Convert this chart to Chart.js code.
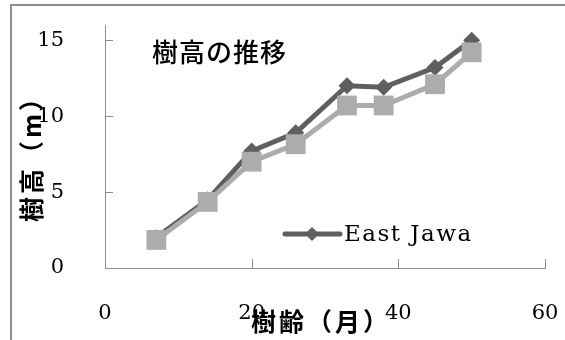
<!DOCTYPE html>
<html>
<head>
<meta charset="utf-8">
<script src="https://cdn.jsdelivr.net/npm/chart.js@4/dist/chart.umd.min.js"></script>
<style>
  html, body { margin: 0; padding: 0; background: #fff; }
  #wrap { width: 565px; height: 340px; }
</style>
</head>
<body>
<div id="wrap"><canvas id="c" width="565" height="340"></canvas></div>
<script>
// 樹齢（月）
const ages = [7, 14, 20, 26, 33, 38, 45, 50];
// 樹高（m）
const eastJawa = [2.0, 4.5, 7.7, 8.9, 12.0, 11.9, 13.2, 15.0];
const series2 = [1.85, 4.35, 7.0, 8.15, 10.7, 10.7, 12.1, 14.2];
const xTicks = [0, 20, 40, 60];
const yTicks = [0, 5, 10, 15];

const chartTitle = '樹高の推移';
const xTitle = '樹齢（月）';
const yTitle = '樹高（m）';

const DARK = '#5f5f5f';
const LIGHT = '#acacac';
const SERIF = '"DejaVu Serif", "Liberation Serif", serif';
const GOTHIC = '"Noto Sans CJK JP", "Noto Sans", sans-serif';

const toPoints = (xs, ys) => xs.map((x, i) => ({ x: x, y: ys[i] }));

// tick labels may overhang the plot; keep the plot box fixed
const noLabelPadding = s => {
  s.paddingTop = 0; s.paddingBottom = 0; s.paddingLeft = 0; s.paddingRight = 0;
};

// frame, inward tick marks, titles and legend
const decorations = {
  id: 'decorations',
  beforeDraw(chart) {
    const ctx = chart.ctx;
    ctx.save();
    ctx.strokeStyle = '#8e8e8e';
    ctx.lineWidth = 2;
    ctx.beginPath();
    ctx.moveTo(11, chart.height);
    ctx.lineTo(11, 5);
    ctx.lineTo(chart.width, 5);
    ctx.stroke();
    ctx.restore();
  },
  afterDraw(chart) {
    const ctx = chart.ctx;
    const a = chart.chartArea;
    const xs = chart.scales.x, ys = chart.scales.y;
    ctx.save();
    // tick marks pointing into the plot
    ctx.strokeStyle = '#8e8e8e';
    ctx.lineWidth = 1;
    ctx.beginPath();
    yTicks.forEach(v => {
      if (v === 0) return;
      const py = Math.round(ys.getPixelForValue(v)) + 0.5;
      ctx.moveTo(a.left, py); ctx.lineTo(a.left + 8, py);
    });
    xTicks.forEach(v => {
      if (v === 0) return;
      const px = Math.round(xs.getPixelForValue(v)) + 0.5;
      ctx.moveTo(px, a.bottom); ctx.lineTo(px, a.bottom - 9);
    });
    ctx.stroke();

    ctx.fillStyle = '#000';
    ctx.textBaseline = 'middle';
    // chart title inside the plot
    ctx.font = '500 26px ' + GOTHIC;
    ctx.letterSpacing = '1px';
    ctx.textAlign = 'left';
    ctx.fillText(chartTitle, a.left + 47, a.top + 27);

    // x axis title
    ctx.font = 'bold 25px ' + GOTHIC;
    ctx.letterSpacing = '3px';
    ctx.textAlign = 'center';
    ctx.fillText(xTitle, (a.left + a.right) / 2 - 4, 321);

    // y axis title
    ctx.save();
    ctx.translate(31, (a.top + a.bottom) / 2 + 6);
    ctx.rotate(-Math.PI / 2);
    ctx.fillText(yTitle, 0, 0);
    ctx.restore();

    // legend (first series only)
    const ds = chart.data.datasets[0];
    const lx = a.left + 180, ly = a.bottom - 34;
    ctx.strokeStyle = ds.borderColor;
    ctx.lineWidth = 5;
    ctx.lineCap = 'round';
    ctx.beginPath();
    ctx.moveTo(lx, ly); ctx.lineTo(lx + 55, ly);
    ctx.stroke();
    ctx.fillStyle = ds.borderColor;
    ctx.beginPath();
    ctx.moveTo(lx + 27, ly - 7); ctx.lineTo(lx + 34, ly); ctx.lineTo(lx + 27, ly + 7); ctx.lineTo(lx + 20, ly);
    ctx.closePath(); ctx.fill();
    ctx.fillStyle = '#000';
    ctx.font = '23px ' + SERIF;
    ctx.letterSpacing = '1.5px';
    ctx.textAlign = 'left';
    ctx.fillText(ds.label, lx + 59, ly + 1);
    ctx.letterSpacing = '0px';
    ctx.restore();
  }
};

new Chart(document.getElementById('c'), {
  type: 'line',
  data: {
    datasets: [
      {
        label: 'East Jawa',
        data: toPoints(ages, eastJawa),
        borderColor: DARK,
        backgroundColor: DARK,
        borderWidth: 5,
        pointStyle: 'rectRot',
        pointRadius: 8.5,
        pointBorderWidth: 0,
        pointBackgroundColor: DARK,
        tension: 0,
        order: 1
      },
      {
        label: '系列2',
        data: toPoints(ages, series2),
        borderColor: LIGHT,
        backgroundColor: LIGHT,
        borderWidth: 5,
        pointStyle: 'rect',
        pointRadius: 14,
        pointBorderWidth: 0,
        pointBackgroundColor: LIGHT,
        tension: 0,
        order: 0
      }
    ]
  },
  options: {
    responsive: false,
    animation: false,
    events: [],
    layout: { padding: { top: 25, right: 20, left: 0, bottom: 0 } },
    plugins: {
      legend: { display: false },
      title: { display: false },
      tooltip: { enabled: false }
    },
    scales: {
      x: {
        type: 'linear',
        min: 0, max: 60,
        afterBuildTicks: s => { s.ticks = xTicks.map(v => ({ value: v })); },
        afterFit: s => { s.height = 72; noLabelPadding(s); },
        grid: { display: false },
        border: { display: true, color: '#8e8e8e', width: 1 },
        ticks: { color: '#000', font: { family: SERIF, size: 21 }, padding: 25, maxRotation: 0 }
      },
      y: {
        type: 'linear',
        min: 0, max: 16,
        afterBuildTicks: s => { s.ticks = yTicks.map(v => ({ value: v })); },
        afterFit: s => { s.width = 105; noLabelPadding(s); },
        grid: { display: false },
        border: { display: true, color: '#8e8e8e', width: 1 },
        ticks: { color: '#000', font: { family: SERIF, size: 21 }, padding: 33 }
      }
    }
  },
  plugins: [decorations]
});
</script>
</body>
</html>
